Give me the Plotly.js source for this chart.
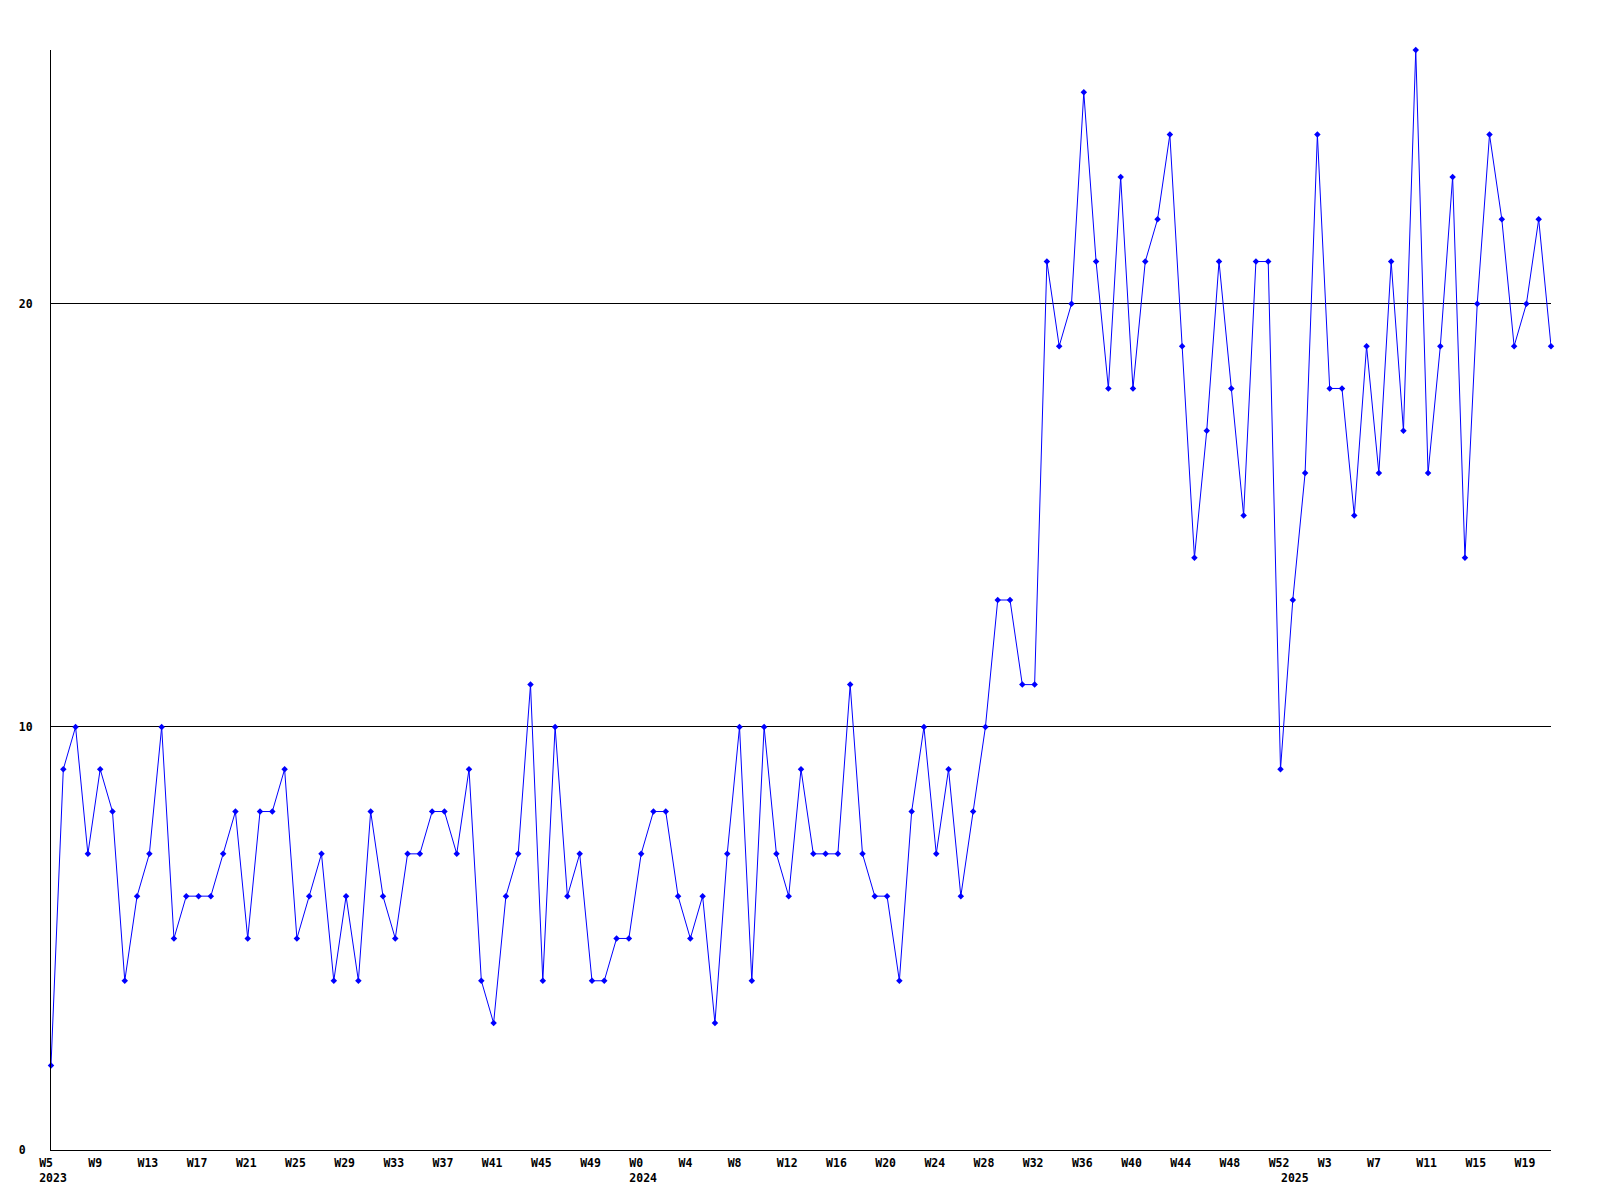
<!DOCTYPE html>
<html>
<head>
<meta charset="utf-8">
<script src="https://cdn.plot.ly/plotly-3.0.1.min.js"></script>
<style>html,body{margin:0;padding:0;background:#fff;}#chart{width:1600px;height:1200px;}</style>
</head>
<body>
<div id="chart"></div>
<script>
// Weekly series, 2023 W5 .. 2025 W21
const years = ["2023", "2024", "2025"];
const firstWeek = [5, 0, 0];
const lastWeek = [52, 52, 21];

const values2023 = [2, 9, 10, 7, 9, 8, 4, 6, 7, 10,
                    5, 6, 6, 6, 7, 8, 5, 8, 8, 9,
                    5, 6, 7, 4, 6, 4, 8, 6, 5, 7,
                    7, 8, 8, 7, 9, 4, 3, 6, 7, 11,
                    4, 10, 6, 7, 4, 4, 5, 5];
const values2024 = [7, 8, 8, 6, 5, 6, 3, 7, 10, 4,
                    10, 7, 6, 9, 7, 7, 7, 11, 7, 6,
                    6, 4, 8, 10, 7, 9, 6, 8, 10, 13,
                    13, 11, 11, 21, 19, 20, 25, 21, 18, 23,
                    18, 21, 22, 24, 19, 14, 17, 21, 18, 15,
                    21, 21, 9];
const values2025 = [13, 16, 24, 18, 18, 15, 19, 16, 21, 17,
                    26, 16, 19, 23, 14, 20, 24, 22, 19, 20,
                    22, 19];

const yTickVals = [0, 10, 20];
const yTickText = ["0", "10", "20"];
const weekLabelEvery = 4;

// ---- build categories (week labels) from the year ranges ----
const seriesByYear = [values2023, values2024, values2025];
const weekOf = [], yearOf = [], yearStartIdx = [];
years.forEach((y, k) => {
  yearStartIdx.push(weekOf.length);
  for (let w = firstWeek[k]; w <= lastWeek[k]; w++) { weekOf.push(w); yearOf.push(y); }
});
const values = [].concat(...seriesByYear);
const xIdx = values.map((_, i) => i);

const NB = "\u00A0";
const pad = (s, n) => s + NB.repeat(Math.max(0, n - s.length));
const tickVals = [], tickText = [];
xIdx.forEach(i => {
  const isWeekTick = i % weekLabelEvery === 0;
  const yk = yearStartIdx.indexOf(i);
  if (!isWeekTick && yk < 0) return;
  const line1 = isWeekTick ? pad("W" + weekOf[i], 4) : NB.repeat(4);
  tickVals.push(i);
  tickText.push(yk >= 0 ? line1 + "<br>" + pad(years[yk], 4) : line1);
});

const font = {family: "DejaVu Sans Mono", size: 11.5, color: "#000", weight: "bold"};

const trace = {
  x: xIdx,
  y: values,
  type: "scatter",
  mode: "lines+markers",
  line: {color: "#0000FF", width: 1},
  marker: {color: "#0000FF", symbol: "diamond", size: 5},
  cliponaxis: false,
  hoverinfo: "skip"
};

const layout = {
  width: 1600,
  height: 1200,
  margin: {l: 51, r: 49, t: 50, b: 50, pad: 0},
  paper_bgcolor: "#fff",
  plot_bgcolor: "#fff",
  showlegend: false,
  font: font,
  xaxis: {
    range: [0, xIdx.length - 1],
    tickmode: "array",
    tickvals: tickVals,
    ticktext: tickText,
    tickangle: 0,
    ticks: "",
    showgrid: false,
    zeroline: false,
    showline: true,
    linecolor: "#000",
    linewidth: 1,
    tickfont: font,
    ticklabelshift: 2,
    ticklabelstandoff: 2,
    fixedrange: true
  },
  yaxis: {
    range: [0, 26],
    tickmode: "array",
    tickvals: yTickVals,
    ticktext: yTickText.map(t => pad(t, 2)),
    ticks: "",
    showgrid: true,
    gridcolor: "#000",
    gridwidth: 1,
    zeroline: false,
    showline: true,
    linecolor: "#000",
    linewidth: 1,
    tickfont: font,
    ticklabelstandoff: 15,
    fixedrange: true
  }
};

Plotly.newPlot("chart", [trace], layout, {displayModeBar: false, staticPlot: true});
</script>
</body>
</html>
